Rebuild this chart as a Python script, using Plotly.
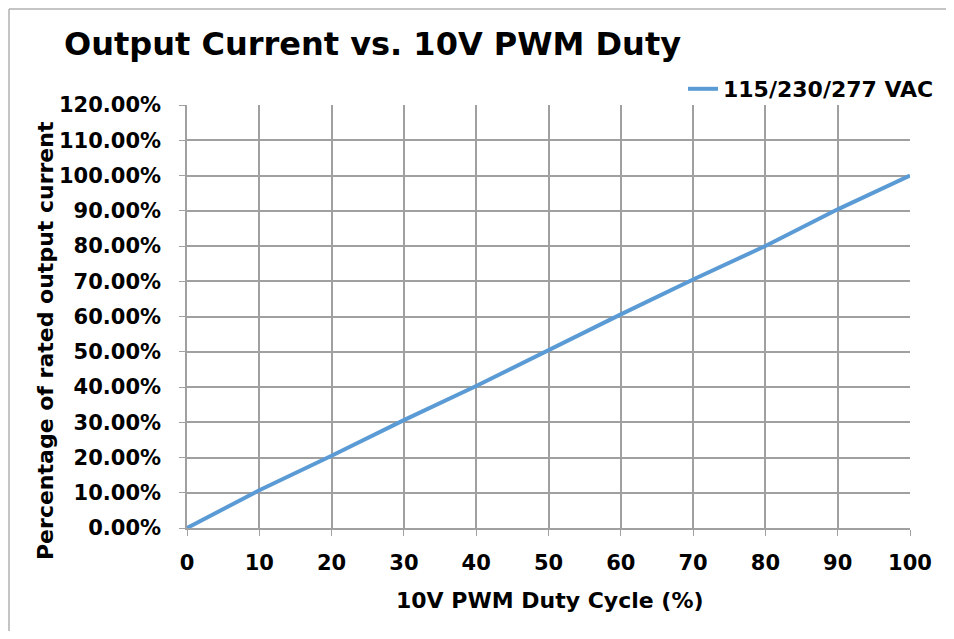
import plotly.graph_objects as go

duty_cycle = [0, 10, 20, 30, 40, 50, 60, 70, 80, 90, 100]
output_current = [0.0, 0.107, 0.205, 0.306, 0.403, 0.505, 0.606, 0.705, 0.800, 0.904, 1.000]
series_name = "115/230/277 VAC"
y_ticks = [i / 10 for i in range(13)]
x_ticks = list(range(0, 101, 10))

# page is offset by the default 8px body margin
OFF = 8
PAGE_W, PAGE_H = 954, 639
W, H = PAGE_W - OFF, PAGE_H - 2 * OFF
# plot area in page coordinates
PL, PR, PT, PB = 187, 910, 105, 528
L, T = PL - OFF, PT - OFF
R, B = W - (PR - OFF), H - (PB - OFF)
pw, ph = PR - PL, PB - PT

def px(xp):
    return (xp - PL) / pw

def py(yp):
    return (PB - yp) / ph

FONT = "DejaVu Sans"
grid_col = "#a0a0a0"
border_col = "#b0b0b0"

fig = go.Figure()
fig.add_trace(go.Scatter(
    x=duty_cycle, y=output_current, mode="lines", name=series_name,
    line=dict(color="#5B9BD5", width=4),
))

fig.update_layout(
    width=W, height=H,
    margin=dict(l=L, r=R, t=T, b=B),
    paper_bgcolor="white", plot_bgcolor="white",
    font=dict(family=FONT, color="black"),
    showlegend=True,
    legend=dict(x=px(683), y=py(89), xanchor="left", yanchor="middle",
                font=dict(family=FONT, size=22, color="black", weight="bold"),
                bgcolor="rgba(0,0,0,0)", borderwidth=0),
    xaxis=dict(range=[0, 100], tickvals=x_ticks, showgrid=True, gridcolor=grid_col, gridwidth=1.5,
               showline=True, linecolor=grid_col, linewidth=1.5, ticks="outside", ticklen=6,
               tickcolor=grid_col, tickfont=dict(family=FONT, size=21, weight="bold"),
               ticklabelstandoff=9, zeroline=False, fixedrange=True),
    yaxis=dict(range=[0, 1.2], tickvals=y_ticks, tickformat=".2%", showgrid=True, gridcolor=grid_col,
               gridwidth=1.5, showline=True, linecolor=grid_col, linewidth=1.5, ticks="outside",
               ticklen=6, tickcolor=grid_col, tickfont=dict(family=FONT, size=21, weight="bold"),
               ticklabelstandoff=14, zeroline=False, fixedrange=True),
)

fig.add_annotation(text="Output Current vs. 10V PWM Duty", xref="paper", yref="paper",
                   x=px(62), y=py(44), xanchor="left", yanchor="middle", showarrow=False,
                   font=dict(family=FONT, size=32, weight="bold", color="black"))
fig.add_annotation(text="10V PWM Duty Cycle (%)", xref="paper", yref="paper",
                   x=px(549.5), y=py(600), xanchor="center", yanchor="middle", showarrow=False,
                   font=dict(family=FONT, size=22, weight="bold", color="black"))
fig.add_annotation(text="Percentage of rated output current", xref="paper", yref="paper",
                   x=px(45), y=py(341), xanchor="center", yanchor="middle", showarrow=False,
                   textangle=-90, font=dict(family=FONT, size=22, weight="bold", color="black"))

# chart-area border: left and top edges (right/bottom lie outside the view)
fig.add_shape(type="line", xref="paper", yref="paper",
              x0=px(OFF + 1), x1=px(OFF + 1), y0=py(PAGE_H + 20), y1=py(OFF + 1),
              line=dict(color=border_col, width=1.5), layer="below")
fig.add_shape(type="line", xref="paper", yref="paper",
              x0=px(OFF + 1), x1=px(PAGE_W + 20), y0=py(OFF + 1), y1=py(OFF + 1),
              line=dict(color=border_col, width=1.5), layer="below")

fig.write_html("out.html")
